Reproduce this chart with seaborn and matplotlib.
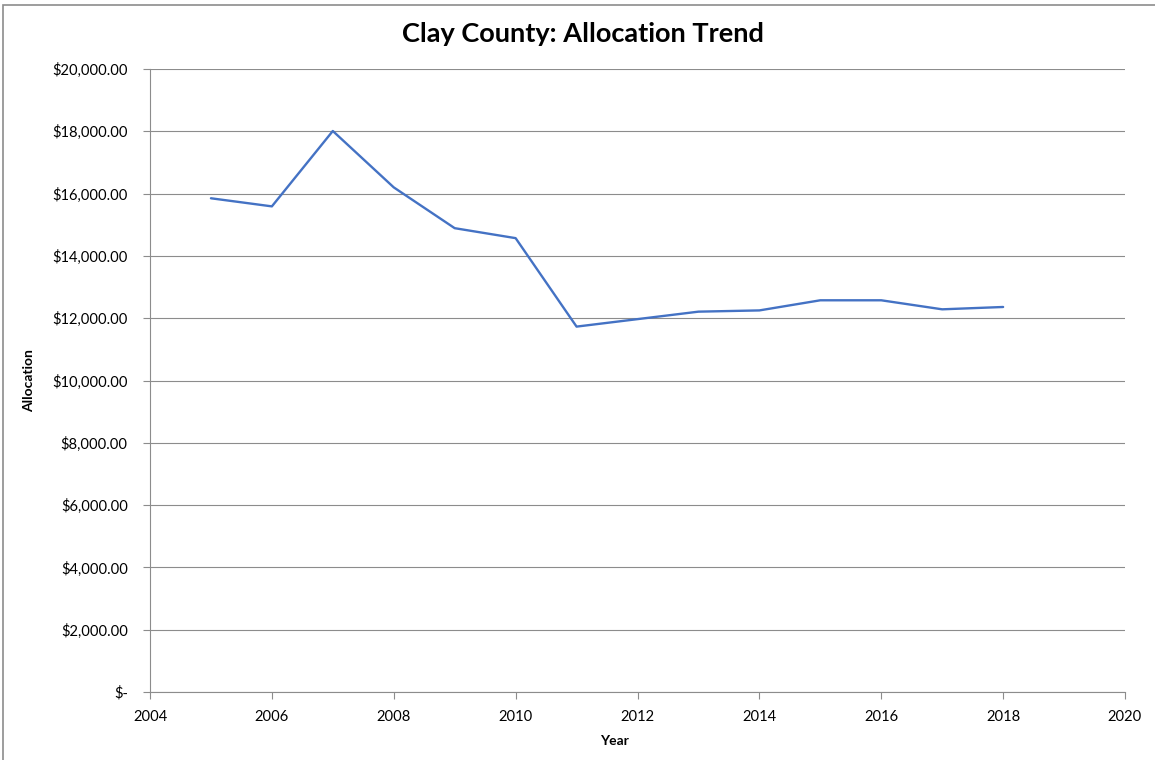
import pandas as pd
import numpy as np
import seaborn as sns
import matplotlib.pyplot as plt
from matplotlib.patches import Rectangle
from matplotlib.ticker import FuncFormatter

# values
years = [2005, 2006, 2007, 2008, 2009, 2010, 2011, 2012, 2013, 2014, 2015, 2016, 2017, 2018]
allocation = [15850, 15590, 18010, 16200, 14890, 14570, 11730, 11970, 12210, 12250, 12575, 12575, 12285, 12360]

df = pd.DataFrame({'Year': years, 'Allocation': allocation})

sns.set_theme(style='white')
plt.rcParams['font.family'] = ['Lato', 'DejaVu Sans']

fig = plt.figure(figsize=(11.55, 7.6), dpi=100)
ax = fig.add_axes([150 / 1155, 1 - 692 / 760, 975 / 1155, 623 / 760])

grid_col = '#8c8c8c'
sns.lineplot(data=df, x='Year', y='Allocation', ax=ax, color='#4472C4', linewidth=1.7)

ax.set_xlim(2004, 2020)
ax.set_ylim(0, 20000)
ax.set_xticks(np.arange(2004, 2021, 2))
ax.set_yticks(np.arange(0, 20001, 2000))

def money(v, pos):
    if v == 0:
        return '$-'
    return f'${v:,.2f}'

ax.yaxis.set_major_formatter(FuncFormatter(money))
ax.yaxis.grid(True, color=grid_col, linewidth=0.8)
ax.set_axisbelow(True)

for side in ['top', 'right']:
    ax.spines[side].set_visible(False)
for side in ['left', 'bottom']:
    ax.spines[side].set_color(grid_col)
    ax.spines[side].set_linewidth(0.8)

ax.tick_params(axis='y', which='major', left=True, length=5, width=0.8, color=grid_col,
               pad=11, labelsize=10.6, labelcolor='black')
ax.tick_params(axis='x', which='major', bottom=True, length=5, width=0.8, color=grid_col,
               pad=8, labelsize=10.6, labelcolor='black')

ax.set_xlabel('Year', fontsize=10, fontweight='bold', color='black')
ax.set_ylabel('Allocation', fontsize=10, fontweight='bold', color='black')
ax.xaxis.set_label_coords((614 - 150) / 975, -(735 - 692) / 623)
ax.yaxis.set_label_coords(-(150 - 35) / 975, 0.5)

fig.text(0.505, 1 - 34 / 760, 'Clay County: Allocation Trend', ha='center', va='center',
         fontsize=19.5, fontweight='bold', color='black')

# chart area border
fig.patches.append(Rectangle((3 / 1155, -0.1), 1.2, 1 - 5 / 760 + 0.1, transform=fig.transFigure,
                             fill=False, edgecolor=grid_col, linewidth=1.2))

fig.savefig('out.png', dpi=100)
